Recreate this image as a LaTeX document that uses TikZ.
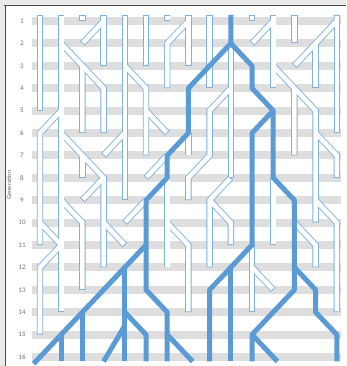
\documentclass[tikz,border=0pt]{standalone}
\usepackage{fontspec}
\setmainfont{Carlito}
\usepackage{tikz}
\usetikzlibrary{positioning}
\definecolor{gnLine}{HTML}{5B9BD5}
\definecolor{gnEdge}{HTML}{7FB2E0}
\definecolor{gnStripe}{HTML}{DEDEDE}
\definecolor{gnInk}{HTML}{707070}
\definecolor{gnFrame}{HTML}{EAEAE8}
\definecolor{gnRule}{HTML}{4A4A4A}
\tikzset{
  gn diagram/.style={x=1pt, y=-1pt, text=gnInk},
  gn stripe/.style={fill=gnStripe},
  gn label/.style={font=\fontsize{7}{8}\selectfont, text=gnInk, inner sep=1pt},
  gn lattice/.style={x=21.2pt, y=-22.4pt, shift={(40pt,1.4pt)}},
  gn casing/.style={draw=gnEdge, line width=6.4pt},
  gn core/.style={draw=white, line width=4.6pt, shorten <=0.9pt, shorten >=0.9pt},
  gn ancestry/.style={draw=gnLine, line width=5pt, line join=round}
}
\newcommand{\gnDeadLines}[1]{%
  \draw[#1] (0,0.73) -- (0,5);
  \draw[#1] (1,0.73) -- (1,14);
  \draw[#1] (1,2) -- (2,3) -- (2,6);
  \draw[#1] (2,3) -- (3,4) -- (3,6);
  \draw[#1] (2,0.73) -- (2,1);
  \draw[#1] (3,0.73) -- (3,3);
  \draw[#1] (3,1) -- (2,2);
  \draw[#1] (4,0.73) -- (4,9);
  \draw[#1] (4,3) -- (5,4) -- (5,7);
  \draw[#1] (5,5) -- (6,6);
  \draw[#1] (5,0.73) -- (5,3);
  \draw[#1] (6,0.73) -- (6,1);
  \draw[#1] (7,0.73) -- (7,3);
  \draw[#1] (7,1) -- (6,2) -- (6,4);
  \draw[#1] (8,0.73) -- (8,4);
  \draw[#1] (10,0.73) -- (10,1);
  \draw[#1] (11,0.73) -- (11,4);
  \draw[#1] (11,1) -- (10,2);
  \draw[#1] (12,0.73) -- (12,2);
  \draw[#1] (14,0.73) -- (14,1) -- (12,3);
  \draw[#1] (13,2) -- (13,4);
  \draw[#1] (14,1) -- (14,6);
  \draw[#1] (11,3) -- (12,4) -- (12,7);
  \draw[#1] (12,4) -- (13,5) -- (13,10);
  \draw[#1] (13,6) -- (14,7) -- (14,8);
  \draw[#1] (13,9) -- (14,10) -- (14,14);
  \draw[#1] (9,2) -- (9,8);
  \draw[#1] (9,4) -- (8,5) -- (8,7) -- (7,8) -- (7,9);
  \draw[#1] (1,5) -- (0,6) -- (0,11);
  \draw[#1] (1,6) -- (3,8) -- (3,12);
  \draw[#1] (2,7) -- (2,8);
  \draw[#1] (3,8) -- (2,9);
  \draw[#1] (4,6) -- (3,7);
  \draw[#1] (7,6) -- (7,7);
  \draw[#1] (6,7) -- (5,8);
  \draw[#1] (5,9) -- (4,10);
  \draw[#1] (0,10) -- (1,11);
  \draw[#1] (1,11) -- (0,12) -- (0,15);
  \draw[#1] (1,9) -- (2,10) -- (2,13);
  \draw[#1] (3,10) -- (4,11);
  \draw[#1] (6,8) -- (6,12);
  \draw[#1] (6,10) -- (7,11) -- (7,14);
  \draw[#1] (9,8) -- (8,9) -- (8,12);
  \draw[#1] (8,9) -- (9,10) -- (9,11);
  \draw[#1] (11,8) -- (11,11);
  \draw[#1] (10,11) -- (10,14);
  \draw[#1] (10,12) -- (11,13);
  \draw[#1] (12,10) -- (13,11) -- (13,12);
}
\begin{document}
\begin{tikzpicture}[gn diagram]
\useasboundingbox (0,0) rectangle (346,366);
\fill[gnFrame] (0,0) rectangle (346,366);
\fill[white] (5,5) rectangle (346,366);
\draw[gnRule, line width=0.9pt] (4,5) -- (346,5);
\draw[gnRule, line width=0.9pt] (5,5) -- (5,366);
\fill[gn stripe] (32,17) rectangle (341,25);
\fill[gn stripe] (32,39.4) rectangle (341,47.4);
\fill[gn stripe] (32,61.8) rectangle (341,69.8);
\fill[gn stripe] (32,84.2) rectangle (341,92.2);
\fill[gn stripe] (32,106.6) rectangle (341,114.6);
\fill[gn stripe] (32,129) rectangle (341,137);
\fill[gn stripe] (32,151.4) rectangle (341,159.4);
\fill[gn stripe] (32,173.8) rectangle (341,181.8);
\fill[gn stripe] (32,196.2) rectangle (341,204.2);
\fill[gn stripe] (32,218.6) rectangle (341,226.6);
\fill[gn stripe] (32,241) rectangle (341,249);
\fill[gn stripe] (32,263.4) rectangle (341,271.4);
\fill[gn stripe] (32,285.8) rectangle (341,293.8);
\fill[gn stripe] (32,308.2) rectangle (341,316.2);
\fill[gn stripe] (32,330.6) rectangle (341,338.6);
\fill[gn stripe] (32,353) rectangle (341,361);
\node[gn label] (gen1) at (22,21) {1};
\node[gn label] (gen2) at (22,43.4) {2};
\node[gn label] (gen3) at (22,65.8) {3};
\node[gn label] (gen4) at (22,88.2) {4};
\node[gn label] (gen5) at (22,110.6) {5};
\node[gn label] (gen6) at (22,133) {6};
\node[gn label] (gen7) at (22,155.4) {7};
\node[gn label] (gen8) at (22,177.8) {8};
\node[gn label] (gen9) at (22,200.2) {9};
\node[gn label] (gen10) at (22,222.6) {10};
\node[gn label] (gen11) at (22,245) {11};
\node[gn label] (gen12) at (22,267.4) {12};
\node[gn label] (gen13) at (22,289.8) {13};
\node[gn label] (gen14) at (22,312.2) {14};
\node[gn label] (gen15) at (22,334.6) {15};
\node[gn label] (gen16) at (22,357) {16};
\node[gn label, rotate=90, font=\fontsize{6.5}{7}\selectfont] (axis) at (9,185) {Generation};
\begin{scope}[gn lattice]
\gnDeadLines{gn casing}
\gnDeadLines{gn core}
\draw[gn ancestry] (9,0.73) -- (9,2) -- (7,4) -- (7,6) -- (6,7) -- (6,8) -- (5,9) -- (5,13) -- (6,14) -- (6,16.2);
\draw[gn ancestry] (5,11) -- (-0.3,16.3);
\draw[gn ancestry] (4,12) -- (4,16.2);
\draw[gn ancestry] (2,14) -- (2,16.2);
\draw[gn ancestry] (1,15) -- (1,16.2);
\draw[gn ancestry] (4,14.6) -- (3,16.2);
\draw[gn ancestry] (4,14) -- (5,15) -- (5,16.2);
\draw[gn ancestry] (6,15) -- (7.2,16.2);
\draw[gn ancestry] (9,2) -- (10,3) -- (10,4) -- (11,5) -- (10,6) -- (10,11) -- (9,12) -- (8,13) -- (8,16.2);
\draw[gn ancestry] (9,12) -- (9,16.2);
\draw[gn ancestry] (11,5) -- (11,8) -- (12,9) -- (12,13) -- (10,15) -- (10,16.2);
\draw[gn ancestry] (10,15) -- (11.2,16.2);
\draw[gn ancestry] (12,12) -- (13,13) -- (13,14) -- (14,15) -- (14,16.2);
\end{scope}
\end{tikzpicture}
\end{document}
